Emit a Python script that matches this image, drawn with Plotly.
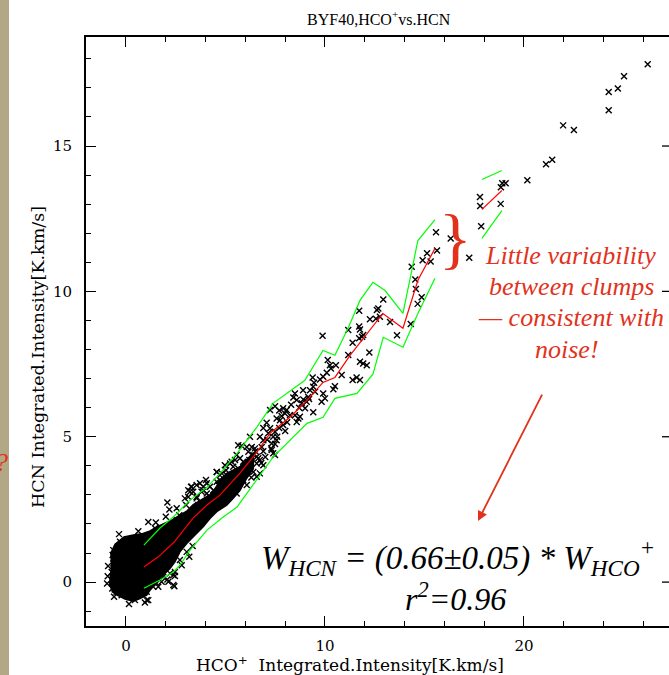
import plotly.graph_objects as go

# ---------------------------------------------------------------------------
# BYF40: HCO+ vs HCN integrated intensity (K km/s)
# ---------------------------------------------------------------------------

# Saturated core of the pixel cloud (outline of the solid region)
core_outline_x = [-0.82, -0.80, -0.72, -0.76, -0.55, -0.10, 0.37, 0.79, 1.21, 1.54,
                  1.87, 2.21, 2.63, 3.05, 3.38, 3.80, 4.22, 4.47, 4.72, 5.06,
                  5.39, 5.73, 6.05, 6.40, 6.40, 6.05, 5.73, 5.39, 5.06, 4.56,
                  4.22, 3.88, 3.47, 3.05, 2.71, 2.46, 2.21, 1.87, 1.54, 1.29,
                  1.04, 0.70, 0.37, -0.05, -0.45, -0.72]
core_outline_y = [-0.16, 0.10, 0.55, 1.00, 1.30, 1.55, 1.62, 1.66, 1.76, 1.90,
                  2.00, 2.10, 2.27, 2.44, 2.67, 2.84, 3.01, 3.18, 3.51, 3.74,
                  3.85, 3.97, 4.20, 4.45, 3.90, 3.55, 3.16, 2.88, 2.65, 2.42,
                  2.19, 1.90, 1.62, 1.33, 1.04, 0.70, 0.47, 0.24, 0.01, -0.20,
                  -0.45, -0.57, -0.66, -0.58, -0.45, -0.32]

# Pixels around the edge of the core
edge_x = [1.12, 2.08, 2.18, 2.55, 3.27, 3.22, 3.72, 3.88, 4.56, 3.18,
          2.43, 2.38, 2.46, 2.13, -0.69, -0.64, -0.55, -0.67, 0.45, 1.12,
          0.04, -0.30, 1.79, 2.08, 1.37, 1.62, 3.02, 2.68, 2.55, 1.46,
          1.71, 5.39, 5.56, 5.31, 4.72, 5.03, 4.56, 4.06, 3.55, 3.63,
          3.22, 2.71, 2.21, 1.79, 2.88, 3.35, 3.05, 2.71, 2.80, 2.46,
          2.21, 1.87, 1.54, 1.04, 0.79, 0.20, -0.22, -0.47, -0.72, -0.72,
          -0.64, 2.96, 3.13, 3.55, 4.02, 4.97, 5.64, 6.23, 7.32, 7.40,
          6.23, 5.89, 2.38, 1.04, 6.65, -0.92, -0.90, -0.95, -0.35, 0.62,
          0.15, 0.95, -0.60, 1.50, 2.00]
edge_y = [2.07, 2.74, 2.50, 2.54, 3.28, 3.11, 3.40, 3.16, 3.79, 0.87,
          -0.14, 0.24, 0.21, 0.01, -0.22, 1.10, 0.87, 0.93, -0.62, -0.62,
          1.44, 1.39, 0.01, 0.09, -0.16, -0.16, 2.65, 2.30, 2.13, 1.85,
          1.88, 3.68, 3.51, 4.14, 3.68, 3.85, 3.45, 3.40, 2.88, 2.65,
          2.30, 1.90, 1.62, 1.56, 2.13, 1.24, 1.04, 0.76, 0.58, 0.35,
          0.30, 0.18, -0.04, -0.33, -0.41, -0.51, -0.45, -0.33, 0.07, 0.35,
          0.64, 2.88, 3.16, 3.34, 3.51, 4.02, 4.71, 5.00, 4.54, 4.43,
          4.08, 3.85, -0.10, -0.62, 4.26, 0.20, 0.55, -0.05, 1.65, 1.75,
          -0.75, -0.70, -0.50, 2.05, 2.25]

# Pixels along the main correlation band
band_x = [12.68, 11.72, 12.26, 12.56, 12.76, 13.27, 9.88, 11.17, 11.76, 11.92,
          11.39, 12.23, 11.17, 11.76, 11.92, 12.10, 10.14, 10.25, 10.30, 10.55,
          10.84, 10.09, 9.91, 9.75, 9.38, 9.45, 10.42, 10.50, 11.39, 11.59,
          11.76, 9.91, 10.00, 9.83, 9.41, 9.25, 9.50, 8.49, 8.41, 8.58,
          8.91, 8.83, 9.08, 9.00, 9.16, 9.41, 7.24, 7.49, 7.90, 8.08,
          7.99, 7.82, 8.24, 7.57, 7.74, 8.49, 8.66, 8.74, 8.58, 7.07,
          7.24, 7.15, 7.49, 7.40, 7.57, 7.32, 7.49, 6.73, 6.90, 6.82,
          5.81, 6.07, 6.32, 6.48, 6.15, 6.40, 6.57, 7.49, 6.73, 6.57,
          6.90, 5.56, 5.73, 5.48, 5.89, 5.23, 5.39, 5.64, 6.23, 6.40,
          6.73, 6.57, 4.56, 4.81, 5.06, 5.73, 5.89, 5.64, 6.07, 4.72,
          4.97, 5.23, 4.64, 4.89, 5.14, 5.39, 5.56, 4.22, 4.39, 3.88,
          3.80, 4.06, 3.38, 3.30, 3.13, 3.55, 4.22, 4.56,
          12.93, 12.61, 14.31, 11.72, 11.72, 11.86, 13.62,
          15.58, 16.32, 15.63, 15.13, 14.91, 15.31, 14.36, 14.54, 14.57, 14.86,
          14.66, 17.25,
          6.00, 6.20, 6.50, 6.90, 7.10, 7.70, 7.90, 8.10, 8.30, 8.00,
          7.60, 7.00, 6.30, 6.80, 7.30, 8.70, 9.20, 8.90, 7.70, 6.90]
band_y = [9.41, 9.33, 9.04, 9.06, 9.13, 8.95, 8.47, 8.67, 8.69, 8.50,
          8.23, 7.90, 7.81, 7.58, 7.52, 7.46, 7.64, 7.46, 7.35, 7.46,
          7.12, 7.20, 7.06, 6.97, 7.04, 6.86, 6.63, 6.74, 6.95, 7.04,
          6.95, 6.49, 6.32, 6.20, 6.72, 6.60, 6.55, 6.49, 6.35, 6.26,
          6.28, 6.15, 6.20, 5.98, 6.37, 5.84, 5.92, 6.05, 5.98, 5.92,
          5.80, 5.71, 5.74, 5.63, 5.57, 5.74, 5.63, 5.69, 5.51, 5.48,
          5.29, 5.12, 5.17, 5.00, 4.88, 4.77, 4.75, 5.00, 4.88, 4.65,
          4.69, 4.65, 4.65, 4.60, 4.48, 4.37, 4.31, 4.37, 4.20, 4.08,
          4.02, 4.37, 4.26, 4.20, 4.14, 4.08, 3.97, 3.91, 3.91, 3.79,
          3.74, 3.62, 3.79, 3.74, 3.68, 3.62, 3.51, 3.40, 3.34, 3.51,
          3.45, 3.40, 3.34, 3.28, 3.22, 3.16, 3.05, 3.28, 3.16, 3.28,
          3.11, 3.05, 3.11, 3.28, 2.93, 2.93, 2.93, 2.93,
          9.72, 9.36, 8.88, 8.79, 8.39, 8.44, 8.49,
          12.03, 11.82, 11.41, 11.31, 11.07, 11.03, 10.85, 10.41, 10.08, 9.80,
          9.57, 11.16,
          4.00, 4.20, 4.50, 4.50, 4.90, 5.30, 5.40, 5.50, 6.10, 5.20,
          5.00, 4.30, 3.60, 4.10, 4.60, 6.00, 6.30, 6.60, 5.90, 5.30]

# Brightest pixels
tail_x = [26.22, 25.03, 24.72, 24.26, 24.26, 21.97, 22.51, 21.42, 21.11, 20.17,
          18.91, 19.08, 18.84, 17.79, 17.80, 18.83, 17.85]
tail_y = [17.81, 17.40, 16.98, 16.86, 16.23, 15.71, 15.55, 14.53, 14.37, 13.82,
          13.72, 13.72, 13.58, 13.25, 12.94, 13.01, 12.24]

# Binned mean and +/- 1 sigma envelope (None separates the two runs of bins)
mean_x = [0.90, 1.61, 2.41, 2.71, 3.37, 4.07, 4.72, 5.73, 6.58, 7.24, 8.24, 9.10,
          9.90, 10.50, 11.26, 12.91, 13.92, 14.67, 15.53, None, 17.89, 18.89]
mean_y = [0.52, 0.86, 1.37, 1.62, 2.20, 2.65, 2.99, 3.75, 4.47, 5.12, 5.67, 6.25,
          6.87, 7.04, 7.80, 9.24, 8.73, 10.38, 11.48, None, 12.82, 13.47]
upper_x = [0.90, 1.71, 2.36, 3.22, 4.07, 4.87, 5.58, 6.58, 7.39, 8.99, 9.90, 10.50,
           11.16, 11.76, 12.41, 13.02, 13.92, 14.67, 15.53, None, 17.89, 18.89]
upper_y = [1.27, 1.86, 2.23, 2.82, 3.26, 3.85, 4.43, 5.33, 6.15, 6.94, 7.97, 7.80,
           8.73, 9.69, 10.31, 10.03, 9.24, 11.75, 12.47, None, 13.85, 14.16]
lower_x = [0.90, 1.71, 2.36, 2.71, 3.22, 4.07, 4.87, 5.58, 5.83, 7.39, 9.10, 9.90,
           10.50, 11.61, 12.41, 12.93, 13.92, 14.67, 15.53, None, 17.89, 18.89]
lower_y = [-0.21, 0.07, 0.34, 0.58, 1.10, 1.79, 2.23, 2.58, 2.82, 4.30, 5.46, 5.67,
           6.32, 6.49, 7.15, 8.42, 8.08, 9.24, 10.45, None, 11.82, 12.78]

x_range = [-2.01, 27.29]
y_range = [-1.51, 18.75]
y_major_ticks = [0, 5, 10, 15]

# ---------------------------------------------------------------------------
W, H = 669, 675
L, R, T, B = 86, 0, 37, 49
PW, PH = W - L - R, H - T - B
RED = "#e2321c"
SERIF = "DejaVu Serif"
TIMES = "Liberation Serif"


def paper(px, py):
    """Page pixel position -> paper coordinates."""
    return (px - L) / PW, (H - B - py) / PH


fig = go.Figure()

fig.add_trace(go.Scatter(x=core_outline_x, y=core_outline_y, fill="toself",
                         fillcolor="black", mode="lines",
                         line=dict(color="black", width=1.5), hoverinfo="skip"))

cross = dict(symbol="x-thin", size=6, color="black",
             line=dict(color="black", width=1.4))
for xs, ys in [(edge_x, edge_y), (band_x, band_y), (tail_x, tail_y)]:
    fig.add_trace(go.Scatter(x=xs, y=ys, mode="markers", marker=cross,
                             hoverinfo="skip"))

for xs, ys, col in [(upper_x, upper_y, "#00ff00"),
                    (lower_x, lower_y, "#00ff00"),
                    (mean_x, mean_y, "#ff0000")]:
    fig.add_trace(go.Scatter(x=xs, y=ys, mode="lines", connectgaps=False,
                             line=dict(color=col, width=1.2), hoverinfo="skip"))

axis_style = dict(showgrid=False, zeroline=False, showline=True,
                  linecolor="black", linewidth=2, ticks="inside",
                  tickcolor="black", tickwidth=1.3, ticklen=10,
                  tickfont=dict(family=SERIF, size=15, color="black"),
                  automargin=False, tickmode="linear", tick0=0)

fig.update_xaxes(range=x_range, dtick=10, mirror="ticks", ticklabelstandoff=5,
                 minor=dict(tickmode="linear", tick0=0, dtick=2, ticklen=5,
                            ticks="inside", tickcolor="black", tickwidth=1.3),
                 **axis_style)
fig.update_yaxes(range=y_range, dtick=5, ticklabelstandoff=9,
                 minor=dict(tickmode="linear", tick0=0, dtick=1, ticklen=5,
                            ticks="inside", tickcolor="black", tickwidth=1.3),
                 **axis_style)

shapes = []
# slide background strip on the left edge
x0, _ = paper(0, 0)
x1, _ = paper(9, 0)
shapes.append(dict(type="rect", xref="paper", yref="paper", x0=x0, x1=x1,
                   y0=paper(0, H)[1], y1=paper(0, 0)[1],
                   fillcolor="#b3a886", line=dict(width=0), layer="below"))
# ticks of the right-hand axis (axis itself lies just beyond the page)
for v in y_major_ticks:
    shapes.append(dict(type="line", xref="paper", yref="y",
                       x0=paper(662, 0)[0], x1=1.0, y0=v, y1=v,
                       line=dict(color="black", width=1.3)))

annotations = []


def text(px, py, s, size, family, color="black", angle=0, **kw):
    ax_, ay_ = paper(px, py)
    annotations.append(dict(x=ax_, y=ay_, xref="paper", yref="paper", text=s,
                            showarrow=False, textangle=angle,
                            font=dict(family=family, size=size, color=color),
                            xanchor=kw.get("xanchor", "center"),
                            yanchor="middle"))


text(379, 18, "BYF40,HCO<sup>+</sup>vs.HCN", 16, TIMES)
text(350, 664, "HCO<sup>+</sup>  Integrated.Intensity[K.km/s]", 17, SERIF)
text(38, 357, "HCN Integrated.Intensity[K.km/s]", 17.5, SERIF, angle=-90)

text(570, 255, "<i>Little variability</i>", 26, TIMES, RED)
text(571, 286, "<i>between clumps</i>", 26, TIMES, RED)
text(571, 317, "<i>— consistent with</i>", 26, TIMES, RED)
text(567, 349, "<i>noise!</i>", 26, TIMES, RED)
text(455, 238, "}", 68, TIMES, RED)
text(10, 462, "<i>?</i>", 26, TIMES, RED, xanchor="right")

text(458, 557, "<i>W<sub>HCN</sub> = (0.66±0.05) * W<sub>HCO</sub><sup>+</sup></i>",
     33, TIMES)
text(455, 597, "<i>r<sup>2</sup>=0.96</i>", 32, TIMES)

annotations.append(dict(x=17.69, y=2.10, ax=20.95, ay=6.50, xref="x", yref="y",
                        axref="x", ayref="y", showarrow=True, arrowhead=2,
                        arrowsize=1.1, arrowwidth=1.8, arrowcolor=RED, text=""))

fig.update_layout(width=W, height=H,
                  margin=dict(l=L, r=R, t=T, b=B, pad=0),
                  paper_bgcolor="white", plot_bgcolor="white",
                  showlegend=False, template="none",
                  shapes=shapes, annotations=annotations)

fig.write_html("out.html")
